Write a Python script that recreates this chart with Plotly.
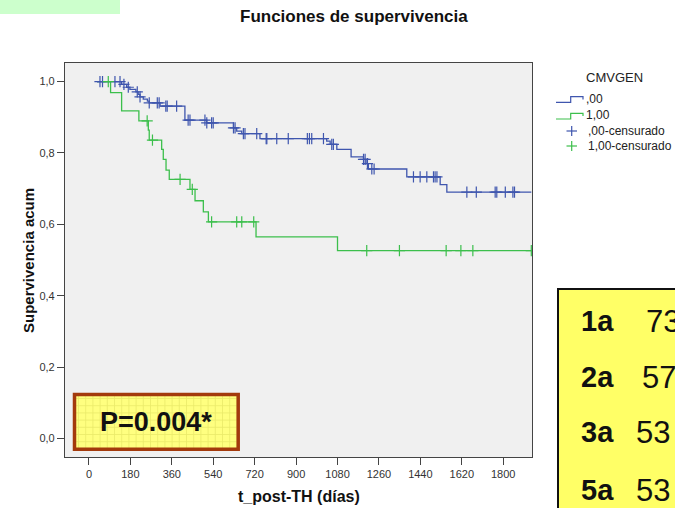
import plotly.graph_objects as go

# ---------------- data ----------------
# Kaplan-Meier step curves: time of each step (days) and survival after it
blue_t = [35, 142, 164, 178, 204, 214, 222, 236, 254, 262, 309, 417, 512, 628, 642,
          664, 743, 1033, 1048, 1077, 1139, 1193, 1204, 1214, 1381, 1526, 1555, 1922]
blue_s = [1.0, 0.992, 0.984, 0.978, 0.971, 0.964, 0.957, 0.951, 0.945, 0.940, 0.931,
          0.892, 0.884, 0.870, 0.861, 0.854, 0.840, 0.833, 0.824, 0.810, 0.789, 0.782,
          0.770, 0.755, 0.733, 0.711, 0.690, 0.690]
blue_cens = [48, 59, 113, 135, 152, 171, 210, 222, 262, 297, 305, 334, 340, 381, 431,
             439, 504, 512, 533, 540, 628, 635, 671, 678, 729, 770, 773, 816, 866, 949,
             958, 968, 1019, 1055, 1062, 1193, 1200, 1210, 1229, 1239, 1410, 1439, 1468,
             1497, 1504, 1512, 1642, 1683, 1765, 1772, 1809, 1842, 1849]

green_t = [35, 94, 142, 217, 258, 262, 316, 323, 335, 349, 439, 461, 497, 519, 726, 1080, 1922]
green_s = [1.0, 0.969, 0.918, 0.890, 0.864, 0.836, 0.810, 0.782, 0.752, 0.726, 0.698,
           0.666, 0.635, 0.607, 0.565, 0.526, 0.526]
green_cens = [84, 253, 276, 396, 449, 533, 642, 664, 716, 1207, 1349, 1552, 1616, 1668, 1922]

group_names = [",00", "1,00"]
cens_names = [",00-censurado", "1,00-censurado"]
legend_title = "CMVGEN"

x_ticks = [0, 180, 360, 540, 720, 900, 1080, 1260, 1440, 1620, 1800]
x_ticklabels = ["0", "180", "360", "540", "720", "900", "1080", "1260", "1440", "1620", "1800"]
y_ticks = [0.0, 0.2, 0.4, 0.6, 0.8, 1.0]
y_ticklabels = ["0,0", "0,2", "0,4", "0,6", "0,8", "1,0"]

title = "Funciones de supervivencia"
x_title = "t_post-TH (días)"
y_title = "Supervivencia acum"
p_text = "P=0.004*"
box_labels = ["1a", "2a", "3a", "5a"]
box_values = ["73", "57", "53", "53"]

BLUE = "#3F56AE"
GREEN = "#3CBF4C"


def surv_at(times, survs, t):
    s = survs[0]
    for ti, si in zip(times, survs):
        if ti <= t:
            s = si
        else:
            break
    return s


fig = go.Figure()
fig.add_trace(go.Scatter(x=blue_t, y=blue_s, mode="lines", line=dict(color=BLUE, width=1.3, shape="hv"),
                         name=group_names[0], showlegend=False))
fig.add_trace(go.Scatter(x=green_t, y=green_s, mode="lines", line=dict(color=GREEN, width=1.3, shape="hv"),
                         name=group_names[1], showlegend=False))
fig.add_trace(go.Scatter(x=blue_cens, y=[surv_at(blue_t, blue_s, t) for t in blue_cens], mode="markers",
                         marker=dict(symbol="cross-thin", size=8, line=dict(color=BLUE, width=1.2)),
                         name=cens_names[0], showlegend=False))
fig.add_trace(go.Scatter(x=green_cens, y=[surv_at(green_t, green_s, t) for t in green_cens], mode="markers",
                         marker=dict(symbol="cross-thin", size=8, line=dict(color=GREEN, width=1.2)),
                         name=cens_names[1], showlegend=False))

# plot-area pixel geometry -> paper coords helpers (for decorations only)
X0, X1, YT, YB = 65, 532, 63, 457


def px(x):
    return (x - X0) / (X1 - X0)


def py(y):
    return (YB - y) / (YB - YT)


shapes = []
annotations = []

# top-left green strip
shapes.append(dict(type="rect", xref="paper", yref="paper", x0=px(-5), x1=px(120), y0=py(-5), y1=py(14),
                   fillcolor="#CCFFCC", line=dict(width=0), layer="above"))

# legend
annotations.append(dict(text=legend_title, xref="paper", yref="paper", x=px(614), y=py(77),
                        xanchor="center", yanchor="middle", showarrow=False,
                        font=dict(family="Liberation Sans", size=13, color="#222")))
leg_rows = [99, 115, 131, 146]
for i, (col, nm) in enumerate(zip([BLUE, GREEN], group_names)):
    yb, ytop = (102.3, 96.7) if i == 0 else (119, 113.3)
    path = "M {} {} L {} {} L {} {} L {} {} L {} {}".format(
        px(556), py(yb), px(570.7), py(yb), px(570.7), py(ytop), px(583), py(ytop), px(583), py(ytop + 2.8))
    shapes.append(dict(type="path", xref="paper", yref="paper", path=path, line=dict(color=col, width=1.2)))
    annotations.append(dict(text=nm, xref="paper", yref="paper", x=px(584), y=py(leg_rows[i]),
                            xanchor="left", yanchor="middle", showarrow=False,
                            font=dict(family="Liberation Sans", size=12, color="#222")))
for i, (col, nm) in enumerate(zip([BLUE, GREEN], cens_names)):
    yc = leg_rows[2 + i]
    shapes.append(dict(type="line", xref="paper", yref="paper", x0=px(566.5), x1=px(577), y0=py(yc), y1=py(yc),
                       line=dict(color=col, width=1.2)))
    shapes.append(dict(type="line", xref="paper", yref="paper", x0=px(571.7), x1=px(571.7), y0=py(yc - 5),
                       y1=py(yc + 5), line=dict(color=col, width=1.2)))
    annotations.append(dict(text=nm, xref="paper", yref="paper", x=px(586), y=py(yc),
                            xanchor="left", yanchor="middle", showarrow=False,
                            font=dict(family="Liberation Sans", size=12, color="#222")))

# P-value box: fill, faint grid, border
PB = dict(x0=74.5, x1=238.2, y0=394.5, y1=449.2)
shapes.append(dict(type="rect", xref="paper", yref="paper", x0=px(PB["x0"]), x1=px(PB["x1"]),
                   y0=py(PB["y1"]), y1=py(PB["y0"]), fillcolor="#FFFF80", line=dict(width=0), layer="above"))
gx = PB["x0"] + 4
while gx < PB["x1"]:
    shapes.append(dict(type="line", xref="paper", yref="paper", x0=px(gx), x1=px(gx), y0=py(PB["y1"]),
                       y1=py(PB["y0"]), line=dict(color="#EAEA6A", width=0.8), layer="above"))
    gx += 7.2
gy = PB["y0"] + 4
while gy < PB["y1"]:
    shapes.append(dict(type="line", xref="paper", yref="paper", x0=px(PB["x0"]), x1=px(PB["x1"]), y0=py(gy),
                       y1=py(gy), line=dict(color="#EAEA6A", width=0.8), layer="above"))
    gy += 7.2
shapes.append(dict(type="rect", xref="paper", yref="paper", x0=px(PB["x0"]), x1=px(PB["x1"]),
                   y0=py(PB["y1"]), y1=py(PB["y0"]), line=dict(color="#A33A0C", width=3.5), layer="above"))
annotations.append(dict(text="<b>" + p_text + "</b>", xref="paper", yref="paper", x=px(156), y=py(422),
                        xanchor="center", yanchor="middle", showarrow=False,
                        font=dict(family="Liberation Sans", size=27, color="#111")))

# right yellow box
shapes.append(dict(type="rect", xref="paper", yref="paper", x0=px(558), x1=px(700), y0=py(530), y1=py(289),
                   fillcolor="#FFFF66", line=dict(color="#111", width=2), layer="above"))
row_y = [321, 377, 432, 490]
val_x = [644, 640, 634, 634]
for lab, val, yy, vx in zip(box_labels, box_values, row_y, val_x):
    annotations.append(dict(text="<b>" + lab + "</b>", xref="paper", yref="paper", x=px(579), y=py(yy),
                            xanchor="left", yanchor="middle", showarrow=False,
                            font=dict(family="Liberation Sans", size=29, color="#111")))
    annotations.append(dict(text=val, xref="paper", yref="paper", x=px(vx), y=py(yy),
                            xanchor="left", yanchor="middle", showarrow=False,
                            font=dict(family="Liberation Sans", size=31, color="#111")))

# titles
annotations.append(dict(text="<b>" + title + "</b>", xref="paper", yref="paper", x=px(354), y=py(17),
                        xanchor="center", yanchor="middle", showarrow=False,
                        font=dict(family="Liberation Sans", size=17, color="#111")))
annotations.append(dict(text="<b>" + x_title + "</b>", xref="paper", yref="paper", x=px(299), y=py(496),
                        xanchor="center", yanchor="middle", showarrow=False,
                        font=dict(family="Liberation Sans", size=16, color="#111")))
annotations.append(dict(text="<b>" + y_title + "</b>", xref="paper", yref="paper", x=px(28), y=py(261),
                        xanchor="center", yanchor="middle", showarrow=False, textangle=-90,
                        font=dict(family="Liberation Sans", size=15, color="#111")))

fig.update_layout(
    width=675, height=508,
    margin=dict(l=X0, r=675 - X1, t=YT, b=508 - YB),
    paper_bgcolor="white", plot_bgcolor="#F0F0F0",
    showlegend=False,
    shapes=shapes, annotations=annotations,
    font=dict(family="Liberation Sans", size=11, color="#333"),
)
fig.update_xaxes(range=[-104, 1925], tickvals=x_ticks, ticktext=x_ticklabels, showgrid=False, zeroline=False,
                 showline=True, mirror=True, linecolor="#444", linewidth=1.2,
                 ticks="outside", ticklen=7, tickcolor="#444", tickfont=dict(size=11, color="#333"))
fig.update_yaxes(range=[-0.052, 1.052], tickvals=y_ticks, ticktext=y_ticklabels, showgrid=False, zeroline=False,
                 showline=True, mirror=True, linecolor="#444", linewidth=1.2,
                 ticks="outside", ticklen=7, tickcolor="#444", tickfont=dict(size=11, color="#333"))

fig.write_html("out.html", config={"displayModeBar": False},
               post_script="document.body.style.margin='0';document.body.style.overflow='hidden';")
